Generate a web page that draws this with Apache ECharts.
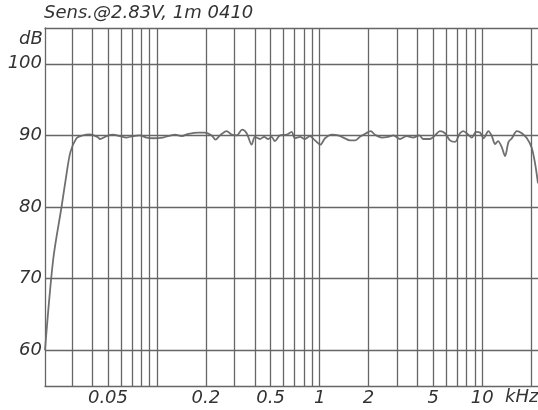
<!DOCTYPE html>
<html>
<head>
<meta charset="utf-8">
<script src="https://cdn.jsdelivr.net/npm/echarts@6/dist/echarts.min.js"></script>
<style>
    html, body { margin: 0; padding: 0; background: #fff; }
    #chart { width: 538px; height: 410px; }
</style>
</head>
<body>
<div id="chart"></div>
<script>
// frequency (kHz) and sensitivity (dB)
const freqs = [
    0.0205, 0.0230, 0.0259, 0.0278, 0.0294, 0.0320, 0.0344, 0.0387, 0.0433, 0.0446,
    0.0490, 0.0538, 0.0591, 0.0650, 0.0714, 0.0785, 0.0863, 0.0948, 0.109, 0.129,
    0.142, 0.156, 0.179, 0.197, 0.217, 0.229, 0.244, 0.268, 0.288, 0.309,
    0.334, 0.356, 0.382, 0.400, 0.430, 0.456, 0.483, 0.507, 0.531, 0.570,
    0.627, 0.673, 0.705, 0.757, 0.812, 0.871, 0.936, 1.01, 1.08, 1.19,
    1.30, 1.40, 1.54, 1.65, 1.77, 1.93, 2.06, 2.19, 2.41, 2.64,
    2.84, 3.12, 3.43, 3.76, 4.10, 4.34, 4.77, 5.12, 5.49, 5.90,
    6.33, 6.80, 7.29, 7.64, 8.20, 8.61, 9.15, 9.68, 10.2, 10.9,
    11.4, 12.0, 12.5, 13.2, 13.8, 14.5, 15.2, 16.3, 17.5, 18.8,
    20.1, 21.1, 22.0
];
const levels = [
    60.0, 72.6, 80.0, 84.6, 87.7, 89.6, 89.95, 90.15, 89.75, 89.5,
    89.9, 90.1, 89.9, 89.7, 89.9, 90.0, 89.7, 89.6, 89.7, 90.1,
    89.9, 90.2, 90.4, 90.4, 90.0, 89.4, 90.0, 90.6, 90.1, 90.0,
    90.8, 90.3, 88.7, 89.8, 89.5, 89.8, 89.5, 89.8, 89.2, 90.0,
    90.1, 90.5, 89.6, 89.8, 89.5, 89.9, 89.3, 88.7, 89.6, 90.1,
    90.0, 89.7, 89.3, 89.3, 89.8, 90.3, 90.6, 90.1, 89.7, 89.8,
    90.0, 89.5, 89.9, 89.7, 90.0, 89.5, 89.5, 90.0, 90.6, 90.3,
    89.3, 89.1, 90.3, 90.6, 90.1, 89.7, 90.5, 90.4, 89.6, 90.6,
    90.0, 88.8, 89.2, 88.3, 87.1, 89.1, 89.6, 90.6, 90.3, 89.6,
    88.3, 86.1, 83.3
];

// grid lines and labels
const gridFreqs = [0.03, 0.04, 0.05, 0.06, 0.07, 0.08, 0.09,
    0.1, 0.2, 0.3, 0.4, 0.5, 0.6, 0.7, 0.8, 0.9,
    1, 2, 3, 4, 5, 6, 7, 8, 9, 10, 20];
const freqLabels = [0.05, 0.2, 0.5, 1, 2, 5, 10];
const dbLines = [60, 70, 80, 90, 100];

const font = {
    fontFamily: 'DejaVu Sans',
    fontStyle: 'italic',
    fontSize: 18,
    color: '#333'
};
const lineColor = '#666';

const markData = [];
gridFreqs.forEach((f) => {
    markData.push({
        xAxis: f,
        label: {
            show: freqLabels.indexOf(f) >= 0,
            position: 'start',
            distance: 3,
            formatter: String(f),
            ...font
        }
    });
});
dbLines.forEach((v) => {
    markData.push({ yAxis: v, label: { show: false } });
});

const chart = echarts.init(document.getElementById('chart'));
chart.setOption({
    animation: false,
    title: [
        { text: 'Sens.@2.83V, 1m 0410', left: 44, top: 4, textStyle: { ...font, fontWeight: 'normal' }, padding: 0 },
        { text: 'dB', left: 19, top: 30, textStyle: { ...font, fontWeight: 'normal' }, padding: 0 },
        { text: 'kHz', left: 505, top: 388, textStyle: { ...font, fontWeight: 'normal' }, padding: 0 }
    ],
    grid: {
        left: 45,
        right: 0,
        top: 28,
        bottom: 24
    },
    xAxis: [
        {
            type: 'log',
            logBase: 10,
            min: 0.0205,
            max: 22,
            axisLine: { show: true, lineStyle: { color: lineColor, width: 1.3 } },
            axisTick: { show: false },
            axisLabel: { show: false },
            splitLine: { show: false },
            minorSplitLine: { show: false }
        },
        {
            type: 'value',
            position: 'top',
            min: 0,
            max: 1,
            axisLine: { show: true, lineStyle: { color: lineColor, width: 1.3 } },
            axisTick: { show: false },
            axisLabel: { show: false },
            splitLine: { show: false }
        }
    ],
    yAxis: {
        type: 'value',
        min: 55,
        max: 105,
        interval: 5,
        axisLine: { show: true, lineStyle: { color: lineColor, width: 1.3 } },
        axisTick: { show: false },
        axisLabel: {
            margin: 3,
            ...font,
            formatter: (v) => (v % 10 === 0 && v >= 60 && v <= 100 ? String(v) : '')
        },
        splitLine: { show: false }
    },
    series: [
        {
            type: 'line',
            data: freqs.map((f, i) => [f, levels[i]]),
            smooth: 0.3,
            showSymbol: false,
            lineStyle: { color: '#707070', width: 1.8 },
            markLine: {
                silent: true,
                symbol: ['none', 'none'],
                lineStyle: { color: lineColor, width: 1.3, type: 'solid' },
                emphasis: { disabled: true },
                data: markData
            },
            z: 3
        }
    ]
});
</script>
</body>
</html>
